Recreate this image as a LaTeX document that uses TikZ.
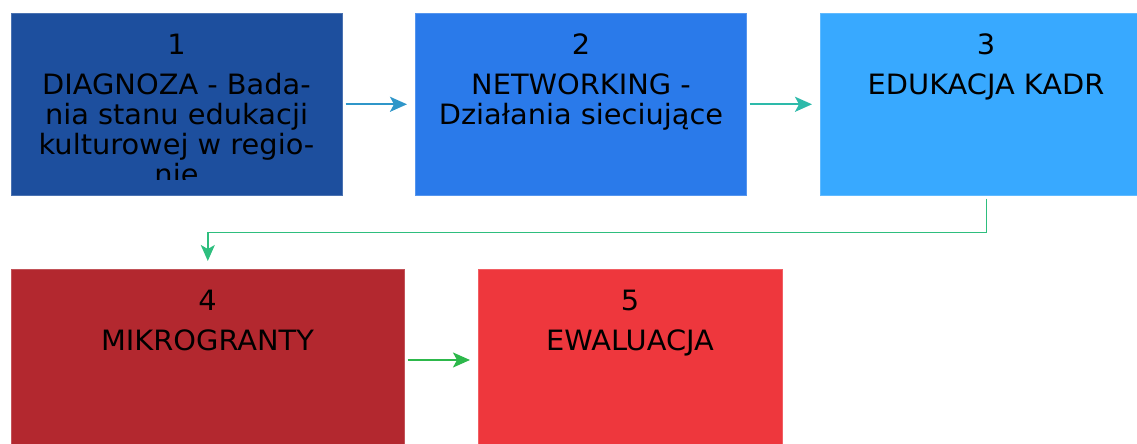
\documentclass[tikz,border=0pt]{standalone}
\usepackage{fontspec}
\setmainfont[FakeStretch=1.03]{DejaVu Sans}
\usetikzlibrary{arrows.meta}
\definecolor{cA}{HTML}{1D4F9E}
\definecolor{cB}{HTML}{2A7AEA}
\definecolor{cC}{HTML}{38A9FF}
\definecolor{cD}{HTML}{B3282F}
\definecolor{cE}{HTML}{EE373D}
\definecolor{aA}{HTML}{2F96C9}
\definecolor{aB}{HTML}{2DBAAA}
\definecolor{aC}{HTML}{2EBE7E}
\definecolor{aD}{HTML}{2DB84B}
\newcommand\boxtxt[2]{\vtop{\baselineskip=30bp\lineskiplimit=-100bp\lineskip=0pt\halign{\hfil##\hfil\cr #1\cr\noalign{\vskip10bp}#2\crcr}}}
\tikzset{
  stagebox/.style={fill=#1, draw=#1!80!white, line width=0.6bp, inner sep=0pt, minimum width=331bp, minimum height=182bp, anchor=north west},
  lbl/.style={inner sep=0pt, anchor=base, text=black, font=\fontsize{28bp}{30bp}\selectfont},
  flow/.style={draw=#1, line width=2.2bp, -{Stealth[length=17bp,width=15bp,inset=4bp]}, shorten <=3bp, shorten >=8bp}
}
\begin{document}
\begin{tikzpicture}[x=1bp,y=-1bp]
\useasboundingbox (0,0) rectangle (1137,444);
\node[stagebox=cA] (b1) at (11,13) {};
\node[stagebox=cB] (b2) at (415,13) {};
\node[stagebox=cC, minimum width=332bp] (b3) at (820,13) {};
\node[stagebox=cD, minimum width=393bp] (b4) at (11,269) {};
\node[stagebox=cE, minimum width=304bp] (b5) at (478,269) {};
\begin{scope}
\clip (11,13) rectangle (342,180);
\node[lbl] (t1) at (176.5,55) {\boxtxt{1}{DIAGNOZA - Bada-\cr nia stanu edukacji\cr kulturowej w regio-\cr nie}};
\end{scope}
\node[lbl] (t2) at (581,55) {\boxtxt{2}{NETWORKING -\cr Działania sieciujące}};
\node[lbl] (t3) at (986,55) {\boxtxt{3}{EDUKACJA KADR}};
\node[lbl] (t4) at (207.5,311) {\boxtxt{4}{MIKROGRANTY}};
\node[lbl] (t5) at (630,311) {\boxtxt{5}{EWALUACJA}};
\draw[flow=aA] (b1.east) -- (b2.west);
\draw[flow=aB] (b2.east) -- (b3.west);
\draw[flow=aD] (b4.east |- 0,360) -- (b5.west |- 0,360);
\draw[flow=aC, line width=1.6bp, -{Stealth[length=16bp,width=14bp,inset=4bp]}] (b3.south) -- ++(0,37) -| (b4.north);
\end{tikzpicture}
\end{document}
